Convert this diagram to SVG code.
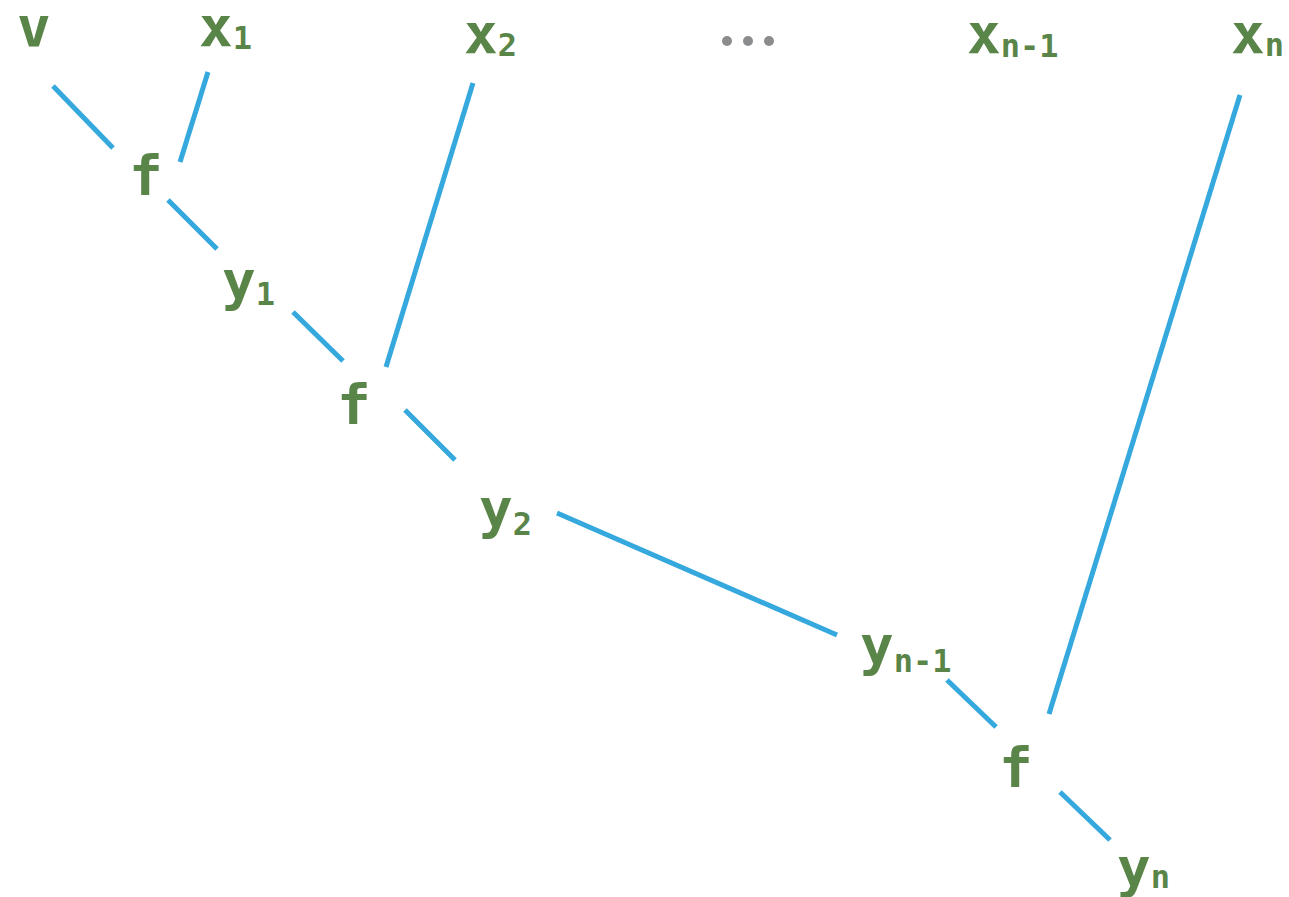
<svg xmlns="http://www.w3.org/2000/svg" width="1289" height="897" viewBox="0 0 1289 897">
<style>
.t{font-family:"DejaVu Sans Mono","Liberation Mono",monospace;font-weight:bold;fill:#5a8549;font-size:56px}
.s{font-size:32px}
.c{stroke:#35a8dd;stroke-width:5;fill:none}
</style>
<rect width="1289" height="897" fill="#fff"/>
<g id="connectors" class="c">
<line x1="53" y1="86" x2="113" y2="148"/>
<line x1="208" y1="72" x2="180" y2="162"/>
<line x1="168" y1="200" x2="217" y2="249"/>
<line x1="293" y1="312" x2="343" y2="361"/>
<line x1="473" y1="83" x2="386" y2="367"/>
<line x1="405" y1="410" x2="455" y2="460"/>
<line x1="557" y1="513" x2="837" y2="635"/>
<line x1="947" y1="680" x2="996" y2="727"/>
<line x1="1240" y1="95" x2="1049" y2="714"/>
<line x1="1060" y1="792" x2="1110" y2="840"/>
</g>
<g id="v"><text class="t" x="17" y="46">v</text></g>
<g id="x1"><text class="t" x="199" y="46">x<tspan class="s" dy="3">1</tspan></text></g>
<g id="x2"><text class="t" x="464" y="53">x<tspan class="s" dy="3">2</tspan></text></g>
<g id="dots" fill="#8a8c8e"><circle cx="727" cy="41" r="5"/><circle cx="748" cy="41" r="5"/><circle cx="769" cy="41" r="5"/></g>
<g id="xn-1"><text class="t" x="967" y="53">x<tspan class="s" dy="4">n-1</tspan></text></g>
<g id="xn"><text class="t" x="1231" y="53">x<tspan class="s" dy="3">n</tspan></text></g>
<g id="f1"><text class="t" x="129" y="195">f</text></g>
<g id="y1"><text class="t" x="222" y="300">y<tspan class="s" dy="5">1</tspan></text></g>
<g id="f2"><text class="t" x="337" y="424">f</text></g>
<g id="y2"><text class="t" x="479" y="528">y<tspan class="s" dy="7">2</tspan></text></g>
<g id="yn-1"><text class="t" x="860" y="665">y<tspan class="s" dy="7">n-1</tspan></text></g>
<g id="f3"><text class="t" x="999" y="787">f</text></g>
<g id="yn"><text class="t" x="1117" y="887">y<tspan class="s" dy="1">n</tspan></text></g>
</svg>
